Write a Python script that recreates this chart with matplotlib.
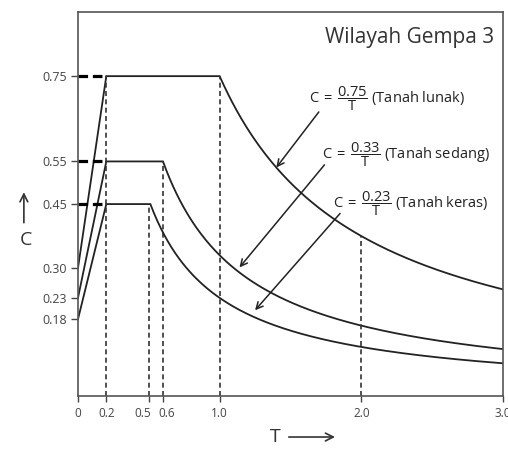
import matplotlib
matplotlib.use("Agg")
import matplotlib.pyplot as plt
import matplotlib.transforms as mtransforms
import numpy as np

plt.rcParams['font.family'] = ['Open Sans', 'DejaVu Sans']
plt.rcParams['mathtext.fontset'] = 'custom'
plt.rcParams['mathtext.rm'] = 'Open Sans'
plt.rcParams['mathtext.bf'] = 'Open Sans:bold'

# spectrum data (Wilayah Gempa 3)
soils = ['Tanah lunak', 'Tanah sedang', 'Tanah keras']
c_start = [0.30, 0.23, 0.18]     # C at T = 0
c_max = [0.75, 0.55, 0.45]       # plateau value
t_rise = 0.2                     # end of rising branch
t_corner = [1.0, 0.6, 0.5]       # end of plateau (dashed guide)
coef = [0.75, 0.33, 0.23]        # C = coef / T after the plateau
coef_txt = ['0.75', '0.33', '0.23']

x_ticks = [0, 0.2, 0.5, 0.6, 1.0, 2.0, 3.0]
x_labels = ['0', '0.2', '0.5', '0.6', '1.0', '2.0', '3.0']
y_ticks = [0.18, 0.23, 0.30, 0.45, 0.55, 0.75]
y_labels = ['0.18', '0.23', '0.30', '0.45', '0.55', '0.75']
t_mark = 2.0

ink = '#222222'

fig = plt.figure(figsize=(5.08, 4.51), dpi=100)
ax = fig.add_axes([0.1535, 0.122, 0.8366, 0.851])
ax.set_xlim(0, 3.0)
ax.set_ylim(0, 0.9)

for i in range(len(soils)):
    t_end = max(t_corner[i], coef[i] / c_max[i])
    t_dec = np.linspace(t_end, 3.0, 200)
    t = np.concatenate([[0, t_rise], t_dec])
    c = np.concatenate([[c_start[i], c_max[i]], np.minimum(coef[i] / t_dec, c_max[i])])
    ax.plot(t, c, color=ink, lw=1.3, solid_joinstyle='miter')
    # dashed guide from axis to start of plateau
    ax.plot([0, t_rise], [c_max[i], c_max[i]], color='k', lw=2.3,
            ls=(0, (3, 1.5)))
    # vertical guide at end of plateau
    ax.plot([t_corner[i], t_corner[i]], [0, c_max[i]], color='#333333',
            lw=1.2, ls=(0, (3, 2)))

ax.plot([t_rise, t_rise], [0, max(c_max)], color='#333333', lw=1.2,
        ls=(0, (3, 2)))
ax.plot([t_mark, t_mark], [0, coef[0] / t_mark], color='#333333', lw=1.2,
        ls=(0, (3, 2)))

ax.set_xticks(x_ticks, x_labels)
ax.set_yticks(y_ticks, y_labels)
ax.tick_params(direction='out', length=5, width=1, colors='#444444',
               labelsize=9, pad=3)
ax.tick_params(axis='x', labelsize=8.5, length=4, pad=4)
# nudge the crowded 0.5 / 0.6 labels apart
shifts = {'0.5': -6, '0.6': 4}
for lab in ax.get_xticklabels():
    dx = shifts.get(lab.get_text(), 0)
    if dx:
        lab.set_transform(lab.get_transform() + mtransforms.ScaledTranslation(
            dx / 100, 0, fig.dpi_scale_trans))
for s in ax.spines.values():
    s.set_color('#555555')
    s.set_linewidth(1.2)

ax.text(2.94, 0.84, 'Wilayah Gempa 3', ha='right', va='center',
        fontsize=15, color='#333333')

# formula labels with arrows
label_pos = [(1.63, 0.698), (1.72, 0.565), (1.80, 0.452)]
arrow_from = [(1.70, 0.666), (1.74, 0.542), (1.85, 0.428)]
arrow_t = [1.40, 1.14, 1.25]
arrow_lift = [0.0, 0.012, 0.017]
for i in range(len(soils)):
    ax.text(label_pos[i][0], label_pos[i][1],
            r'C$\,=\,\dfrac{' + coef_txt[i] + r'}{\mathrm{T}}$ (' + soils[i] + ')',
            ha='left', va='center', fontsize=10.5, color=ink)
    tip = (arrow_t[i], coef[i] / arrow_t[i] + arrow_lift[i])
    ax.annotate('', xy=tip, xytext=arrow_from[i],
                arrowprops=dict(arrowstyle='->', color=ink, lw=1.1,
                                mutation_scale=12, shrinkA=0, shrinkB=0))

# axis labels with arrows
fig.text(0.051, 0.468, 'C', ha='center', va='center', fontsize=14,
         color='#333333')
fig.add_artist(matplotlib.patches.FancyArrowPatch(
    (0.047, 0.50), (0.047, 0.58), transform=fig.transFigure,
    arrowstyle='->', mutation_scale=14, lw=1.2, color='#333333'))
fig.text(0.541, 0.031, 'T', ha='center', va='center', fontsize=14,
         color='#333333')
fig.add_artist(matplotlib.patches.FancyArrowPatch(
    (0.563, 0.031), (0.665, 0.031), transform=fig.transFigure,
    arrowstyle='->', mutation_scale=14, lw=1.2, color='#333333'))

fig.savefig('out.png', dpi=100)
